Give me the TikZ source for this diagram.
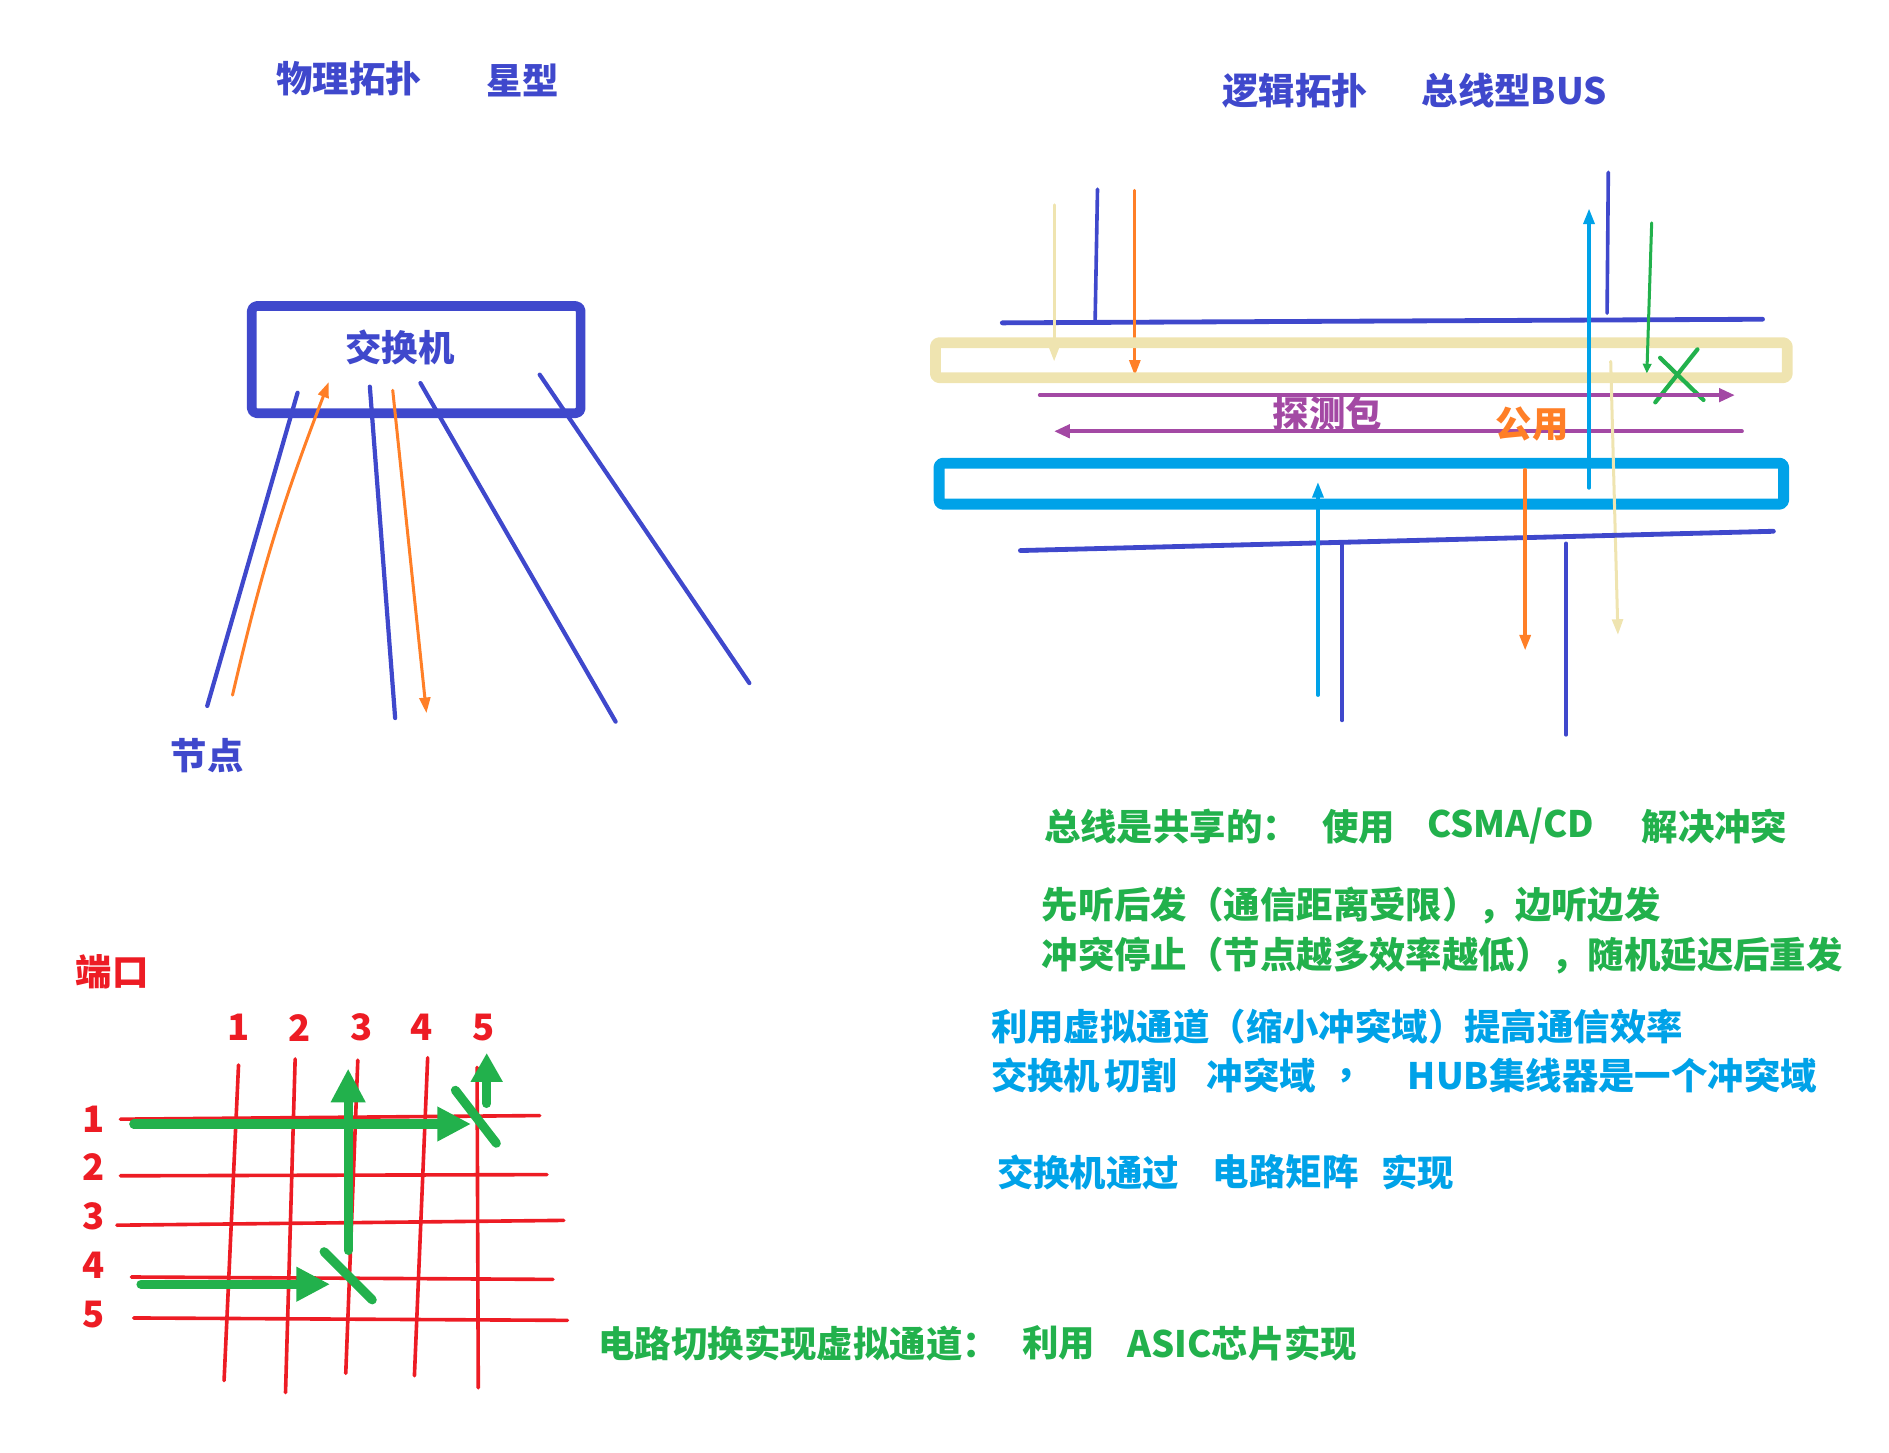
\documentclass[tikz,border=0pt]{standalone}
\usepackage{fontspec}
\setmainfont{Noto Sans CJK SC}
\usepackage{tikz}
\usetikzlibrary{arrows.meta, calc}

\definecolor{swblue}{RGB}{63,72,204}
\definecolor{dorange}{RGB}{255,127,39}
\definecolor{sand}{RGB}{239,228,176}
\definecolor{probe}{RGB}{163,73,164}
\definecolor{sky}{RGB}{0,162,232}
\definecolor{leaf}{RGB}{34,177,76}
\definecolor{port}{RGB}{237,28,36}

\begin{document}
\begin{tikzpicture}[x=0.1mm, y=-0.1mm, line cap=round, line join=round,
    lbl/.style={font=\fontsize{8.6}{10.5}\selectfont\bfseries, inner sep=0pt},
    wire/.style={draw=swblue, line width=0.35mm},
    arr/.style={-{Triangle[length=1.3mm, width=0.9mm]}},
    xbar/.style={draw=port, line width=0.3mm},
    route/.style={draw=leaf, line width=0.75mm},
    bigarr/.style={-{Triangle[length=2.8mm, width=2.7mm]}}]
    \useasboundingbox (0, 0) rectangle (1568, 1206);

    % star
    \node[lbl, swblue] (phys) at (290, 65) {物理拓扑};
    \node[lbl, swblue] (star) at (434, 67) {星型};

    \draw[swblue, line width=0.8mm, rounded corners=0.4mm] (209, 254) rectangle (482, 343);
    \node[lbl, swblue] (sw) at (332, 288) {交换机};

    \draw[wire] (247, 326) -- (172, 586);
    \draw[wire] (307, 321) -- (328, 596);
    \draw[wire] (349, 318) -- (511, 599);
    \draw[wire] (448, 311) -- (622, 567);
    \draw[dorange, line width=0.25mm, arr] (193, 577) to[bend left=4] (273, 317);
    \draw[dorange, line width=0.25mm, arr] (326, 324) -- (354, 592);
    \node[lbl, swblue] (node) at (172, 627) {节点};

    % bus
    \node[lbl, swblue] (logic) at (1075, 75) {逻辑拓扑};
    \node[lbl, swblue] (bus) at (1257, 75) {总线型BUS};

    \draw[swblue, line width=0.4mm] (832, 268) -- (1463, 265);
    \draw[swblue, line width=0.3mm] (911, 157) -- (909, 268);
    \draw[swblue, line width=0.3mm] (1335, 143) -- (1334, 260);
    \draw[sand, line width=0.25mm, arr] (875, 170) -- (875, 300);
    \draw[dorange, line width=0.25mm, arr] (942, 158) -- (942, 312);

    \draw[sand, line width=0.9mm, rounded corners=0.3mm] (776.5, 284.5) rectangle (1483.5, 313.5);
    \draw[leaf, line width=0.25mm, -{Triangle[length=0.8mm, width=0.7mm]}] (1371, 185) -- (1367, 310);
    \draw[leaf, line width=0.35mm] (1378, 297) -- (1414, 332);
    \draw[leaf, line width=0.35mm] (1409, 290) -- (1374, 334);

    \draw[probe, line width=0.3mm, -{Triangle[length=1.3mm, width=1.1mm]}] (863, 328) -- (1440, 328);
    \draw[probe, line width=0.3mm, -{Triangle[length=1.3mm, width=1.1mm]}] (1446, 358) -- (875, 358);
    \node[lbl, probe] (probetxt) at (1102, 343) {探测包};
    \node[lbl, dorange] (share) at (1272, 352) {公用};

    \draw[sky, line width=0.9mm, rounded corners=0.3mm] (779.5, 384.5) rectangle (1480.5, 418.5);
    \draw[sand, line width=0.25mm, arr] (1337, 300) -- (1343, 527);
    \draw[sky, line width=0.3mm, arr] (1319, 405) -- (1319, 173);

    \draw[swblue, line width=0.4mm] (847, 457) -- (1472, 441);
    \draw[sky, line width=0.3mm, arr] (1094, 577) -- (1094, 400);
    \draw[swblue, line width=0.3mm] (1114, 450) -- (1114, 598);
    \draw[dorange, line width=0.3mm, arr] (1266, 390) -- (1266, 540);
    \draw[swblue, line width=0.3mm] (1300, 451) -- (1300, 610);

    % notes
    \node[lbl, leaf, anchor=west] (csa) at (866, 686) {总线是共享的：};
    \node[lbl, leaf, anchor=west] (csb) at (1097, 686) {使用};
    \node[lbl, leaf, anchor=west] (csc) at (1184, 686) {CSMA/CD};
    \node[lbl, leaf, anchor=west] (csd) at (1362, 686) {解决冲突};
    \node[lbl, leaf, anchor=west] (listen) at (864, 752) {先听后发（通信距离受限），边听边发};
    \node[lbl, leaf, anchor=west] (stop) at (864, 793) {冲突停止（节点越多效率越低），随机延迟后重发};

    \node[lbl, sky, anchor=west] (vchan) at (822, 852) {利用虚拟通道（缩小冲突域）提高通信效率};
    \node[lbl, sky, anchor=west] (cuta) at (822, 893) {交换机};
    \node[lbl, sky, anchor=west] (cutb) at (916, 893) {切割};
    \node[lbl, sky, anchor=west] (cutc) at (1001, 893) {冲突域};
    \node[lbl, sky, anchor=west] (cutd) at (1108, 893) {，};
    \node[lbl, sky, anchor=west] (cute) at (1168, 893) {HUB集线器是一个冲突域};
    \node[lbl, sky, anchor=west] (mata) at (827, 973) {交换机通过};
    \node[lbl, sky, anchor=west] (matb) at (1006, 973) {电路矩阵};
    \node[lbl, sky, anchor=west] (matc) at (1146, 973) {实现};

    \node[lbl, leaf, anchor=west] (asica) at (496, 1115) {电路切换实现虚拟通道：};
    \node[lbl, leaf, anchor=west] (asicb) at (848, 1115) {利用};
    \node[lbl, leaf, anchor=west] (asicc) at (935, 1115) {ASIC芯片实现};

    % crossbar
    \node[lbl, port] (ports) at (93, 807) {端口};
    \foreach \i/\x in {1/198, 2/249, 3/300, 4/350, 5/401}
        \node[lbl, port] (col\i) at (\x, 853) {\i};
    \foreach \i/\y in {1/929, 2/969, 3/1010, 4/1050, 5/1091}
        \node[lbl, port] (row\i) at (78, \y) {\i};

    \draw[xbar] (100, 929) -- (448, 926);
    \draw[xbar] (100, 976) -- (454, 975);
    \draw[xbar] (97, 1017) -- (468, 1013);
    \draw[xbar] (109, 1060) -- (459, 1062);
    \draw[xbar] (111, 1094) -- (471, 1096);
    \draw[xbar] (198, 884) -- (186, 1146);
    \draw[xbar] (245, 879) -- (237, 1156);
    \draw[xbar] (297, 880) -- (287, 1140);
    \draw[xbar] (355, 878) -- (344, 1142);
    \draw[xbar] (396, 886) -- (397, 1152);

    \draw[route, bigarr] (111, 933) -- (391, 933);
    \draw[route] (378, 905) -- (412, 949);
    \draw[route, -{Triangle[length=2.4mm, width=2.5mm]}] (404, 916) -- (404, 874);
    \draw[route, bigarr] (289, 1038) -- (289, 887);
    \draw[route] (269, 1039) -- (309, 1079);
    \draw[route, bigarr] (117, 1066) -- (274, 1066);
\end{tikzpicture}
\end{document}
